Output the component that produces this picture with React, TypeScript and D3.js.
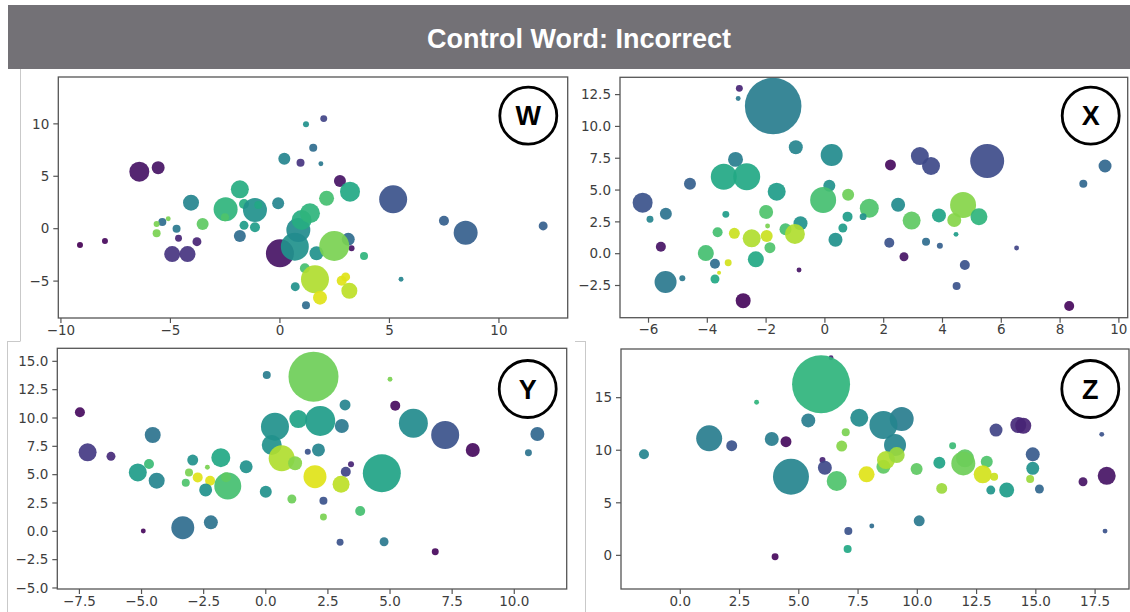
import React from 'react';
import * as d3 from 'd3';

// ---------- Panel W ----------
const W_X = [-9.13,-7.99,-6.42,-5.56,-4.06,-5.37,-5.1,-5.63,-5.63,-4.72,-4.63,-3.53,-3.79,-4.92,-4.22,-2.48,-2.51,-1.83,-1.64,-1.14,-0.99,-1.64,-1.14,-1.83,-0.08,0.2,0,0.68,0.84,1.67,0.99,1.37,0.7,1.19,2.0,1.52,0.94,1.87,2.74,3.2,2.13,5.17,7.49,8.48,12.02,3.84,5.53,3.12,3.27,2.48,1.14,1.6,1.83,2.82,3.0,3.17,1.19];
const W_Y = [-1.56,-1.17,5.44,5.82,2.48,0.64,0.95,0.45,-0.44,0.0,-0.92,0.45,-1.24,-2.42,-2.42,1.85,1.09,3.76,2.36,1.78,2.26,0.32,0.13,-0.7,2.42,6.68,-2.35,-1.72,-0.12,-2.35,0.83,1.47,-5.53,9.96,10.5,7.73,6.3,6.2,4.55,3.53,2.9,2.8,0.76,-0.38,0.26,-2.6,-4.83,-1.01,-1.87,-1.65,-3.78,-4.83,-6.58,-4.96,-4.6,-5.92,-7.31];
const W_SIZE = [9,9,100,42,64,16,6,9,16,16,12,36,20,64,64,144,16,81,25,144,16,20,25,36,36,36,196,196,144,49,100,100,20,9,12,16,16,6,36,100,56,196,25,144,20,16,6,42,9,225,25,196,49,25,20,64,16];
const W_COLOR = [0.0,0.02,0.05,0.05,0.45,0.35,0.8,0.8,0.8,0.4,0.1,0.75,0.1,0.15,0.15,0.65,0.72,0.62,0.62,0.5,0.6,0.55,0.55,0.35,0.45,0.45,0.05,0.5,0.48,0.5,0.62,0.65,0.5,0.5,0.2,0.35,0.15,0.4,0.05,0.6,0.7,0.25,0.3,0.3,0.3,0.65,0.45,0.35,0.05,0.8,0.7,0.88,0.95,0.95,0.95,0.9,0.35];
const W_XTICKS = [-10,-5,0,5,10];
const W_YTICKS = [-5,0,5,10];

// ---------- Panel X ----------
const X_X = [-1.76,-2.91,-2.95,-0.99,0.23,-3.04,-3.44,-2.66,-4.59,-6.2,-5.95,-5.41,-1.64,0.15,-0.06,0.79,-3.37,-2.0,-0.83,0.77,0.61,0.36,-1.95,-3.65,-3.08,-2.49,-1.98,-1.34,-1.02,-1.87,-5.58,-4.05,-2.35,-3.74,-3.29,-3.6,-3.74,-0.88,-5.42,-4.85,-2.78,2.23,3.23,3.61,5.52,9.53,8.79,1.51,2.49,1.3,2.95,3.88,4.4,4.7,5.24,4.46,2.19,3.44,3.91,2.69,4.76,4.48,6.52,8.31];
const X_Y = [11.6,12.99,12.2,8.36,7.75,7.41,6.05,6.05,5.5,4.01,2.7,3.14,4.87,5.34,4.22,4.64,3.09,3.28,2.39,2.91,2.02,1.1,2.18,1.68,1.6,1.21,1.39,1.92,1.55,0.47,0.55,0.05,-0.44,-0.79,-0.71,-1.49,-1.99,-1.28,-2.22,-1.93,-3.69,6.97,7.67,6.89,7.28,6.89,5.5,3.57,3.85,2.91,2.6,3.01,2.65,3.83,2.91,1.52,0.86,0.94,0.63,-0.24,-0.89,-2.54,0.45,-4.11];
const X_SIZE = [800,12,6,49,121,56,169,182,36,100,12,36,81,36,169,36,12,49,49,25,20,49,6,25,30,81,36,36,100,30,25,64,64,25,12,4,20,6,121,9,56,30,81,81,289,42,16,90,49,12,81,49,49,169,72,6,25,16,9,20,25,16,6,25];
const X_COLOR = [0.42,0.1,0.4,0.45,0.48,0.42,0.6,0.6,0.3,0.25,0.45,0.38,0.55,0.5,0.7,0.78,0.55,0.72,0.5,0.55,0.55,0.5,0.8,0.7,0.92,0.88,0.92,0.7,0.88,0.72,0.05,0.7,0.6,0.35,0.93,0.93,0.6,0.05,0.4,0.4,0.02,0.03,0.22,0.22,0.23,0.33,0.33,0.72,0.48,0.5,0.75,0.58,0.82,0.82,0.65,0.55,0.25,0.35,0.3,0.05,0.25,0.25,0.2,0.02];
const X_XTICKS = [-6,-4,-2,0,2,4,6,8,10];
const X_YTICKS = [-2.5,0,2.5,5,7.5,10,12.5];

// ---------- Panel Y ----------
const Y_X = [-7.48,-7.17,-6.23,-4.55,-5.15,-4.7,-4.39,-4.93,-3.34,-2.21,-2.94,-3.09,-3.22,-2.74,-2.35,-2.24,-2.42,-1.81,-1.53,-1.6,-0.79,0.0,0.04,1.92,3.19,5.0,5.21,0.37,0.24,1.31,3.06,2.19,0.64,1.18,2.12,1.69,1.98,3.03,3.22,3.43,4.67,1.05,2.32,2.32,3.8,2.99,4.76,5.94,7.22,8.33,10.93,10.57,6.82];
const Y_Y = [10.5,6.97,6.62,8.5,5.2,5.94,4.47,0.03,0.32,0.79,6.29,5.2,4.29,4.76,5.65,4.47,3.65,6.5,4.0,4.77,5.7,3.5,13.8,13.65,11.15,13.42,11.09,9.23,7.62,9.91,9.29,9.74,6.44,6.0,7.18,7.03,4.82,4.15,5.26,5.91,5.12,2.85,2.7,1.26,1.79,-0.97,-0.92,9.53,8.5,7.18,8.59,6.94,-1.8];
const Y_SIZE = [25,81,20,64,81,25,64,6,132,49,30,16,16,25,6,25,42,90,182,25,42,36,16,625,30,6,25,196,100,81,49,225,169,49,42,9,132,72,25,9,361,20,16,12,25,12,20,210,196,49,49,12,12];
const Y_COLOR = [0.03,0.17,0.12,0.38,0.55,0.68,0.45,0.02,0.35,0.38,0.5,0.8,0.72,0.95,0.8,0.95,0.5,0.6,0.7,0.75,0.5,0.5,0.42,0.78,0.45,0.8,0.03,0.5,0.5,0.58,0.4,0.55,0.88,0.82,0.45,0.25,0.95,0.9,0.2,0.1,0.58,0.78,0.25,0.8,0.7,0.25,0.4,0.48,0.25,0.03,0.33,0.38,0.02];
const Y_XTICKS = [-7.5,-5,-2.5,0,2.5,5,7.5,10];
const Y_YTICKS = [-5,-2.5,0,2.5,5,7.5,10,12.5,15];

// ---------- Panel Z ----------
const Z_X = [6.36,5.94,-1.53,1.22,2.17,3.22,3.86,4.46,4.67,5.4,6.0,6.1,6.6,6.81,6.98,7.09,7.06,4.0,7.55,9.06,9.34,8.57,7.86,8.57,8.68,9.13,9.97,10.93,11.49,12.01,11.94,11.03,10.08,12.93,12.76,13.24,13.1,13.77,13.32,14.26,14.47,14.87,14.87,14.76,15.15,16.99,17.99,17.78,17.92,8.08];
const Z_Y = [18.8,16.27,9.61,11.13,10.43,14.56,11.07,10.81,7.48,12.84,9.07,8.33,7.07,10.4,11.7,2.31,0.6,-0.13,13.09,10.5,12.97,12.4,7.71,8.43,9.07,9.54,8.21,8.81,10.43,9.23,8.75,6.37,3.29,8.91,7.71,7.48,6.21,6.21,11.92,12.4,12.33,9.61,8.28,7.26,6.31,7.0,7.57,11.51,2.31,2.79];
const Z_SIZE = [6,841,25,169,30,6,49,30,324,49,9,49,100,30,16,16,16,12,81,121,144,196,64,49,81,64,36,36,12,81,144,30,30,36,81,16,20,56,42,64,64,49,42,16,20,20,81,6,6,6];
const Z_COLOR = [0.1,0.65,0.45,0.42,0.25,0.65,0.42,0.03,0.45,0.42,0.1,0.22,0.72,0.82,0.8,0.25,0.6,0.02,0.48,0.45,0.42,0.45,0.95,0.75,0.88,0.85,0.75,0.58,0.68,0.75,0.78,0.85,0.4,0.72,0.93,0.92,0.52,0.55,0.2,0.12,0.1,0.28,0.5,0.85,0.33,0.05,0.05,0.25,0.25,0.35];
const Z_XTICKS = [0,2.5,5,7.5,10,12.5,15,17.5];
const Z_YTICKS = [0,5,10,15];

const TITLE = 'Control Word: Incorrect';

const rScale = d3.scaleSqrt().domain([0, 900]).range([0, 30]);
const fmtInt = d3.format('d');
const fmt1 = d3.format('.1f');

type Box = { l: number; r: number; t: number; b: number };

function Panel(props: {
  id: string;
  xs: number[]; ys: number[]; sizes: number[]; colors: number[];
  xTicks: number[]; yTicks: number[];
  xDomain: [number, number]; yDomain: [number, number];
  box: Box; xFmt: (v: number) => string; yFmt: (v: number) => string;
  label: string; labelPos: [number, number];
}) {
  const { id, xs, ys, sizes, colors, xTicks, yTicks, xDomain, yDomain, box, xFmt, yFmt, label, labelPos } = props;
  const x = d3.scaleLinear().domain(xDomain).range([box.l, box.r]);
  const y = d3.scaleLinear().domain(yDomain).range([box.b, box.t]);
  const tickColor = '#555';
  const textColor = '#3d3d3d';
  return (
    <g>
      <defs>
        <clipPath id={`clip-${id}`}>
          <rect x={box.l} y={box.t} width={box.r - box.l} height={box.b - box.t} />
        </clipPath>
      </defs>
      <g clipPath={`url(#clip-${id})`}>
        {xs.map((xv, i) => (
          <circle key={i} cx={x(xv)} cy={y(ys[i])} r={rScale(sizes[i])}
            fill={d3.interpolateViridis(colors[i])} fillOpacity={0.92} />
        ))}
      </g>
      <rect x={box.l} y={box.t} width={box.r - box.l} height={box.b - box.t}
        fill="none" stroke={tickColor} strokeWidth={1.3} />
      {xTicks.map((t) => (
        <g key={`x${t}`}>
          <line x1={x(t)} x2={x(t)} y1={box.b} y2={box.b + 5} stroke={tickColor} strokeWidth={1.2} />
          <text x={x(t)} y={box.b + 7} dy="0.71em" textAnchor="middle"
            fontFamily="DejaVu Sans" fontSize={13.5} fill={textColor}>{xFmt(t)}</text>
        </g>
      ))}
      {yTicks.map((t) => (
        <g key={`y${t}`}>
          <line x1={box.l - 5} x2={box.l} y1={y(t)} y2={y(t)} stroke={tickColor} strokeWidth={1.2} />
          <text x={box.l - 9} y={y(t)} dy="0.35em" textAnchor="end"
            fontFamily="DejaVu Sans" fontSize={13.5} fill={textColor}>{yFmt(t)}</text>
        </g>
      ))}
      <circle cx={labelPos[0]} cy={labelPos[1]} r={28.5} fill="white" stroke="black" strokeWidth={2.8} />
      <text x={labelPos[0]} y={labelPos[1]} dy="0.36em" textAnchor="middle"
        fontFamily="Liberation Sans, Arial, sans-serif" fontWeight="bold" fontSize={27} fill="black">{label}</text>
    </g>
  );
}

export default function App() {
  const frame = '#c9c9c9';
  return (
    <svg width={1130} height={612} style={{ position: 'absolute', left: 0, top: 0, background: 'white' }}>
      <rect x={0} y={0} width={1130} height={612} fill="white" />
      <rect x={8} y={5} width={1122} height={64} fill="#737176" />
      <text x={579} y={38} dy="0.36em" textAnchor="middle" fill="white"
        fontFamily="Liberation Sans, Arial, sans-serif" fontWeight="bold" fontSize={27}>{TITLE}</text>

      <line x1={20.5} x2={20.5} y1={69} y2={341} stroke={frame} strokeWidth={1} />
      <line x1={7.5} x2={7.5} y1={341} y2={612} stroke={frame} strokeWidth={1} />
      <line x1={7} x2={20.5} y1={341.5} y2={341.5} stroke={frame} strokeWidth={1} />
      <line x1={585.5} x2={585.5} y1={342} y2={612} stroke={frame} strokeWidth={1} />
      <line x1={575} x2={586} y1={341.5} y2={341.5} stroke={frame} strokeWidth={1} />

      <Panel id="w" xs={W_X} ys={W_Y} sizes={W_SIZE} colors={W_COLOR}
        xTicks={W_XTICKS} yTicks={W_YTICKS} xDomain={[-10.12, 13.14]} yDomain={[-8.52, 14.47]}
        box={{ l: 58.3, r: 567.7, t: 77, b: 318 }} xFmt={fmtInt} yFmt={fmtInt}
        label="W" labelPos={[528.3, 115.7]} />
      <Panel id="x" xs={X_X} ys={X_Y} sizes={X_SIZE} colors={X_COLOR}
        xTicks={X_XTICKS} yTicks={X_YTICKS} xDomain={[-6.97, 10.3]} yDomain={[-5.03, 13.86]}
        box={{ l: 620, r: 1127.7, t: 77.3, b: 317.7 }} xFmt={fmtInt} yFmt={fmt1}
        label="X" labelPos={[1090.7, 115.7]} />
      <Panel id="y" xs={Y_X} ys={Y_Y} sizes={Y_SIZE} colors={Y_COLOR}
        xTicks={Y_XTICKS} yTicks={Y_YTICKS} xDomain={[-8.39, 12.11]} yDomain={[-5.09, 16.15]}
        box={{ l: 57.3, r: 566.7, t: 348.3, b: 589 }} xFmt={fmt1} yFmt={fmt1}
        label="Y" labelPos={[527.7, 389]} />
      <Panel id="z" xs={Z_X} ys={Z_Y} sizes={Z_SIZE} colors={Z_COLOR}
        xTicks={Z_XTICKS} yTicks={Z_YTICKS} xDomain={[-2.5, 18.93]} yDomain={[-3.2, 19.63]}
        box={{ l: 621, r: 1129, t: 349, b: 589 }} xFmt={fmt1} yFmt={fmtInt}
        label="Z" labelPos={[1090.3, 389]} />
    </svg>
  );
}
